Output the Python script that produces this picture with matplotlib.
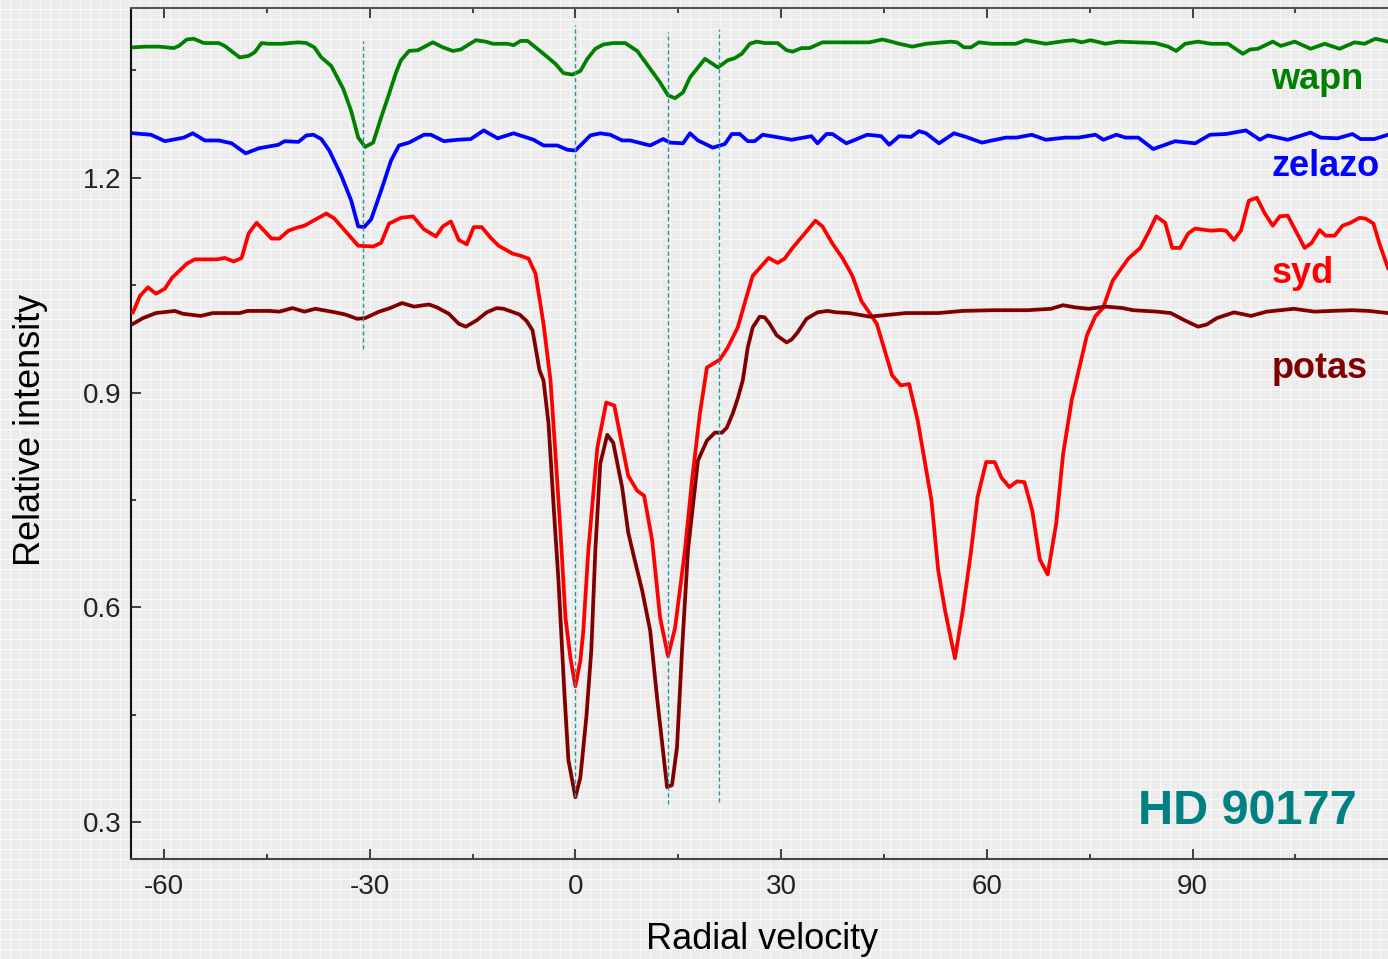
import matplotlib
matplotlib.use("Agg")
import matplotlib.pyplot as plt
from matplotlib.ticker import MultipleLocator

plt.rcParams["axes.unicode_minus"] = False

# ── Data ─────────────────────────────────────────────────────────────────────

green_x = [-64.41, -62.77, -60.73, -58.55, -57.83, -56.66, -55.65, -54.19, -52.01, -51.14,
           -48.96, -47.66, -46.78, -45.77, -44.75, -42.86, -40.39, -39.23, -38.07, -37.05,
           -35.60, -33.85, -32.69, -31.67, -30.66, -29.49, -28.33, -27.17, -26.15, -25.43,
           -24.26, -22.96, -20.78, -19.32, -17.87, -16.71, -14.53, -13.08, -12.06, -9.88,
           -9.01, -7.99, -6.97, -4.65, -2.91, -1.74, -0.44, 0.73, 1.74, 2.91,
           4.07, 5.52, 7.26, 9.01, 10.61, 12.35, 13.51, 14.53, 15.69, 16.71,
           18.89, 20.78, 22.23, 23.25, 24.26, 25.43, 26.44, 27.61, 29.49, 30.80,
           31.67, 32.98, 34.14, 36.03, 38.07, 40.39, 42.86, 44.75, 46.06, 47.22,
           49.11, 51.14, 54.78, 55.65, 56.66, 57.68, 58.84, 60.73, 62.77, 64.22,
           65.67, 66.83, 68.58, 71.48, 72.65, 73.81, 75.12, 77.30, 79.18, 84.56,
           86.45, 87.61, 88.92, 90.80, 92.69, 95.16, 97.34, 98.36, 99.52, 101.70,
           102.86, 104.90, 107.22, 109.26, 111.44, 113.62, 115.07, 116.67, 118.5]
green_y = [1.382, 1.383, 1.383, 1.381, 1.384, 1.393, 1.394, 1.388, 1.388, 1.384,
           1.368, 1.370, 1.375, 1.388, 1.387, 1.387, 1.389, 1.388, 1.382, 1.368,
           1.356, 1.324, 1.293, 1.256, 1.243, 1.249, 1.284, 1.317, 1.347, 1.364,
           1.377, 1.378, 1.389, 1.382, 1.377, 1.379, 1.392, 1.390, 1.387, 1.387,
           1.385, 1.391, 1.391, 1.373, 1.359, 1.346, 1.344, 1.349, 1.366, 1.380,
           1.386, 1.388, 1.388, 1.377, 1.356, 1.333, 1.315, 1.311, 1.319, 1.340,
           1.366, 1.354, 1.364, 1.367, 1.373, 1.387, 1.390, 1.388, 1.388, 1.378,
           1.376, 1.381, 1.381, 1.389, 1.389, 1.389, 1.389, 1.393, 1.390, 1.387,
           1.383, 1.387, 1.390, 1.389, 1.382, 1.382, 1.389, 1.387, 1.387, 1.387,
           1.392, 1.390, 1.387, 1.391, 1.392, 1.389, 1.392, 1.387, 1.390, 1.388,
           1.383, 1.377, 1.387, 1.390, 1.387, 1.387, 1.373, 1.379, 1.380, 1.390,
           1.384, 1.390, 1.380, 1.387, 1.380, 1.389, 1.387, 1.394, 1.390]

blue_x = [-64.41, -61.89, -59.86, -57.10, -55.79, -54.05, -52.01, -50.12, -48.09, -46.20,
          -43.30, -42.42, -40.39, -39.23, -38.21, -37.05, -35.89, -34.14, -32.69, -31.67,
          -30.80, -29.78, -28.33, -26.88, -25.72, -24.26, -22.08, -21.07, -19.18, -17.14,
          -15.26, -13.37, -11.33, -9.01, -6.10, -4.65, -2.62, -1.16, 0.0, 2.18,
          3.63, 5.09, 6.83, 7.99, 10.90, 12.79, 13.80, 15.69, 16.71, 17.87,
          20.05, 21.79, 22.81, 23.97, 25.14, 26.15, 27.31, 29.78, 31.53, 34.43,
          35.31, 36.61, 37.48, 39.52, 42.57, 44.60, 45.77, 47.22, 48.96, 50.12,
          51.14, 53.03, 55.21, 56.95, 59.28, 62.77, 64.36, 66.54, 68.58, 71.48,
          73.37, 75.84, 77.00, 78.89, 80.20, 82.09, 84.27, 86.01, 87.46, 90.37,
          92.55, 94.87, 97.78, 99.81, 100.97, 103.88, 107.22, 108.67, 111.14, 113.32,
          114.48, 116.52, 118.5]
blue_y = [1.262, 1.260, 1.251, 1.256, 1.262, 1.252, 1.252, 1.248, 1.234, 1.241,
          1.246, 1.251, 1.250, 1.259, 1.260, 1.254, 1.238, 1.203, 1.168, 1.132,
          1.131, 1.142, 1.182, 1.224, 1.245, 1.249, 1.260, 1.260, 1.251, 1.253,
          1.254, 1.266, 1.255, 1.262, 1.253, 1.245, 1.245, 1.239, 1.238, 1.259,
          1.262, 1.260, 1.252, 1.252, 1.245, 1.254, 1.249, 1.248, 1.262, 1.252,
          1.242, 1.247, 1.261, 1.261, 1.251, 1.251, 1.260, 1.256, 1.253, 1.258,
          1.248, 1.261, 1.261, 1.248, 1.260, 1.258, 1.246, 1.258, 1.257, 1.265,
          1.262, 1.248, 1.262, 1.257, 1.249, 1.256, 1.256, 1.260, 1.253, 1.256,
          1.256, 1.260, 1.253, 1.260, 1.256, 1.256, 1.240, 1.246, 1.251, 1.248,
          1.260, 1.261, 1.266, 1.253, 1.259, 1.253, 1.263, 1.256, 1.255, 1.261,
          1.254, 1.254, 1.260]

red_x = [-64.51, -63.49, -62.33, -61.17, -59.86, -58.84, -56.66, -55.50, -52.30, -51.14,
         -49.83, -48.67, -47.66, -46.49, -44.31, -43.15, -41.84, -40.68, -39.52, -36.32,
         -35.16, -31.67, -29.49, -28.33, -27.17, -25.43, -23.68, -22.08, -20.34, -19.32,
         -18.16, -17.00, -15.84, -14.82, -13.66, -12.35, -11.19, -9.15, -7.99, -6.83,
         -5.81, -4.65, -3.63, -2.91, -2.18, -1.45, -0.73, 0.0, 0.73, 1.16,
         1.89, 3.20, 4.50, 5.67, 7.70, 9.01, 10.02, 11.19, 12.35, 13.51,
         14.53, 15.98, 17.00, 18.16, 19.18, 21.07, 22.23, 23.68, 24.99, 25.86,
         27.17, 28.19, 29.49, 30.51, 31.67, 33.42, 35.01, 36.03, 37.48, 38.94,
         40.39, 41.70, 43.95, 46.19, 47.44, 48.67, 49.92, 51.93, 52.91, 53.90,
         55.35, 56.50, 57.65, 58.65, 59.90, 61.14, 62.14, 63.29, 64.39, 65.48,
         66.63, 67.72, 68.87, 70.11, 71.12, 72.37, 74.60, 75.85, 76.94, 78.34,
         80.63, 82.38, 83.54, 84.70, 86.01, 87.03, 88.19, 89.35, 90.37, 92.69,
         94.00, 94.87, 96.03, 97.05, 98.21, 99.38, 100.54, 101.70, 102.72, 103.88,
         105.04, 106.35, 107.37, 108.53, 109.41, 110.71, 111.88, 113.03, 114.34, 115.22,
         116.38, 117.25, 118.5]
red_y = [1.012, 1.035, 1.047, 1.038, 1.045, 1.060, 1.080, 1.086, 1.086, 1.088,
         1.083, 1.088, 1.122, 1.137, 1.115, 1.115, 1.126, 1.130, 1.133, 1.150,
         1.143, 1.105, 1.104, 1.109, 1.136, 1.144, 1.146, 1.128, 1.118, 1.132,
         1.139, 1.113, 1.107, 1.131, 1.131, 1.116, 1.105, 1.094, 1.091, 1.087,
         1.066, 0.996, 0.917, 0.815, 0.707, 0.586, 0.530, 0.490, 0.526, 0.568,
         0.680, 0.823, 0.886, 0.882, 0.784, 0.763, 0.756, 0.694, 0.586, 0.532,
         0.571, 0.680, 0.777, 0.871, 0.935, 0.946, 0.963, 0.991, 1.035, 1.063,
         1.077, 1.088, 1.081, 1.087, 1.102, 1.122, 1.140, 1.132, 1.108, 1.088,
         1.063, 1.028, 0.996, 0.924, 0.910, 0.912, 0.861, 0.749, 0.652, 0.596,
         0.529, 0.596, 0.675, 0.754, 0.803, 0.803, 0.781, 0.768, 0.776, 0.775,
         0.735, 0.667, 0.646, 0.717, 0.814, 0.889, 0.980, 1.007, 1.018, 1.056,
         1.087, 1.102, 1.123, 1.146, 1.137, 1.102, 1.102, 1.122, 1.129, 1.126,
         1.127, 1.126, 1.113, 1.126, 1.168, 1.172, 1.150, 1.133, 1.146, 1.147,
         1.126, 1.102, 1.109, 1.127, 1.119, 1.119, 1.133, 1.137, 1.144, 1.143,
         1.136, 1.108, 1.074]

potas_x = [-64.51, -63.05, -61.17, -58.41, -57.24, -54.63, -52.88, -48.96, -47.80, -44.60,
           -43.15, -41.26, -39.52, -37.92, -35.01, -33.56, -31.82, -30.66, -28.62, -27.02,
           -25.28, -23.54, -21.36, -20.19, -18.45, -17.00, -15.98, -14.38, -12.93, -11.48,
           -10.46, -8.14, -7.12, -6.25, -5.23, -4.65, -3.92, -3.20, -2.47, -1.60,
           -1.02, 0.0, 0.73, 1.60, 2.32, 2.91, 3.63, 4.65, 5.52, 6.83,
           7.70, 8.43, 9.73, 10.90, 11.91, 13.37, 14.09, 14.82, 15.55, 16.42,
           17.87, 19.18, 20.34, 21.36, 22.08, 22.96, 23.68, 24.41, 25.14, 25.86,
           26.88, 27.60, 28.33, 29.35, 30.80, 31.53, 32.40, 33.71, 35.31, 36.76,
           38.07, 39.95, 42.95, 48.18, 52.91, 56.40, 60.89, 65.89, 69.37, 71.12,
           72.86, 74.85, 77.35, 79.83, 81.33, 84.83, 86.82, 88.81, 90.80, 92.05,
           93.55, 96.05, 98.53, 100.79, 104.77, 107.76, 110.26, 113.25, 115.73, 118.5]
potas_y = [0.996, 1.004, 1.011, 1.014, 1.010, 1.007, 1.011, 1.011, 1.014, 1.014,
           1.013, 1.018, 1.013, 1.017, 1.012, 1.009, 1.003, 1.004, 1.013, 1.018,
           1.025, 1.020, 1.023, 1.019, 1.010, 0.996, 0.992, 1.001, 1.012, 1.018,
           1.017, 1.009, 1.000, 0.987, 0.931, 0.917, 0.857, 0.745, 0.638, 0.480,
           0.387, 0.335, 0.363, 0.447, 0.540, 0.680, 0.801, 0.841, 0.830, 0.767,
           0.705, 0.675, 0.624, 0.568, 0.474, 0.349, 0.352, 0.405, 0.540, 0.680,
           0.805, 0.833, 0.844, 0.844, 0.851, 0.871, 0.892, 0.917, 0.963, 0.991,
           1.006, 1.005, 0.996, 0.980, 0.970, 0.974, 0.984, 1.003, 1.012, 1.014,
           1.012, 1.011, 1.006, 1.011, 1.011, 1.014, 1.015, 1.015, 1.017, 1.022,
           1.019, 1.017, 1.020, 1.018, 1.015, 1.013, 1.011, 1.001, 0.992, 0.995,
           1.004, 1.012, 1.007, 1.013, 1.017, 1.013, 1.014, 1.015, 1.014, 1.011]

# dashed marker lines: position, bottom, top
line_x = [-30.9, 0.0, 13.55, 20.9]
line_lo = [0.961, 0.335, 0.325, 0.328]
line_hi = [1.391, 1.413, 1.404, 1.407]

series_names = ["wapn", "zelazo", "syd", "potas"]
series_colours = ["#008000", "#0000ff", "#ff0000", "#800000"]
label_y = [1.324, 1.203, 1.053, 0.921]

FONT = "Liberation Sans"

# ── Figure ──────────────────────────────────────────────────────────────────

fig = plt.figure(figsize=(13.88, 9.59), dpi=100)
fig.patch.set_facecolor("#ececec")

# faint white mesh in the background, like the reference paper texture
bg = fig.add_axes([0, 0, 1, 1], zorder=-10)
bg.set_facecolor("#ececec")
bg.set_xlim(0, 1388)
bg.set_ylim(0, 959)
bg.xaxis.set_major_locator(MultipleLocator(10))
bg.yaxis.set_major_locator(MultipleLocator(10))
bg.grid(True, color="white", linewidth=0.7, alpha=0.7)
bg.tick_params(length=0, labelbottom=False, labelleft=False)
for s in bg.spines.values():
    s.set_visible(False)

ax = fig.add_axes([0.0944, 0.1043, 0.9056, 0.8874])
ax.set_facecolor("none")

series = [(green_x, green_y), (blue_x, blue_y), (red_x, red_y), (potas_x, potas_y)]
for (xs, ys), col in zip(series, series_colours):
    ax.plot(xs, ys, color=col, linewidth=2.7, solid_joinstyle="round", zorder=3)

ax.vlines(line_x, line_lo, line_hi, colors="#1f9a9a", linestyles=(0, (3, 2)),
          linewidth=1.0, zorder=4)

for name, col, yy in zip(series_names, series_colours, label_y):
    ax.text(101.5, yy, name, color=col, fontsize=26, fontweight="bold",
            family=FONT, ha="left", va="baseline")

ax.text(113.9, 0.298, "HD 90177", color="#008080", fontsize=35, fontweight="bold",
        family=FONT, ha="right", va="baseline")

ax.set_xlim(-64.8, 118.5)
ax.set_ylim(0.2488, 1.437)
ax.xaxis.set_major_locator(MultipleLocator(30))
ax.xaxis.set_minor_locator(MultipleLocator(15))
ax.yaxis.set_major_locator(MultipleLocator(0.3))
ax.yaxis.set_minor_locator(MultipleLocator(0.15))
ax.yaxis.set_major_formatter(plt.FuncFormatter(lambda v, p: f"{v:.1f}"))

ax.tick_params(which="both", direction="in", top=True, right=False,
               colors="#222222", width=1.2)
ax.tick_params(which="major", length=7)
ax.tick_params(which="minor", length=3.6)
ax.tick_params(axis="x", labelsize=20, pad=11)
ax.tick_params(axis="y", labelsize=20, pad=7)
for lab in ax.get_xticklabels() + ax.get_yticklabels():
    lab.set_family(FONT)

ax.spines["right"].set_visible(False)
for side in ["left", "bottom", "top"]:
    ax.spines[side].set_linewidth(1.5)
ax.spines["left"].set_color("#111111")
ax.spines["bottom"].set_color("#444444")
ax.spines["top"].set_color("#555555")

ax.set_xlabel("Radial velocity", fontsize=26, family=FONT, va="center")
ax.xaxis.set_label_coords(0.502, -0.095)
ax.set_ylabel("Relative intensity", fontsize=26, family=FONT, va="center")
ax.yaxis.set_label_coords(-0.080, 0.504)

fig.savefig("out.png", dpi=100, facecolor=fig.get_facecolor())
